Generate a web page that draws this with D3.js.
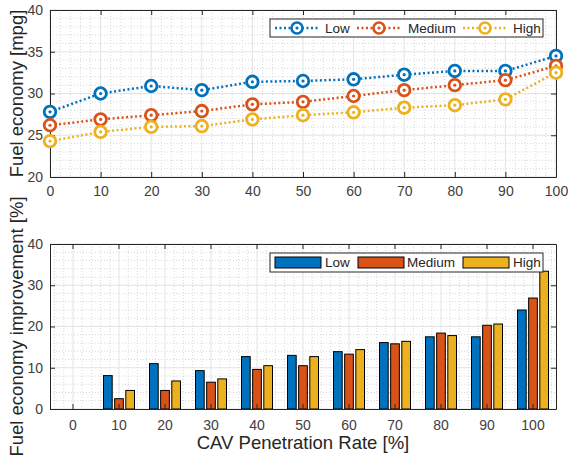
<!DOCTYPE html>
<html>
<head>
<meta charset="utf-8">
<script src="https://cdn.jsdelivr.net/npm/d3@7"></script>
<style>
  body { margin: 0; background: #fff; }
  svg { font-family: "Liberation Sans", Arial, sans-serif; }
</style>
</head>
<body>
<svg id="chart" width="568" height="460"></svg>
<script>
// data
const rates = [0, 10, 20, 30, 40, 50, 60, 70, 80, 90, 100];
const seriesNames = ["Low", "Medium", "High"];
const colors = ["#0072BD", "#D95319", "#EDB120"];

const economyLow = [27.8, 30.0, 30.9, 30.4, 31.4, 31.5, 31.7, 32.25, 32.7, 32.7, 34.5];
const economyMedium = [26.2, 26.9, 27.4, 27.9, 28.7, 29.0, 29.7, 30.4, 31.0, 31.6, 33.3];
const economyHigh = [24.3, 25.4, 26.0, 26.1, 26.9, 27.4, 27.75, 28.3, 28.6, 29.3, 32.5];

const improveLow = [0, 8.1, 11.0, 9.3, 12.7, 13.0, 13.9, 16.1, 17.5, 17.5, 24.0];
const improveMedium = [0, 2.5, 4.5, 6.5, 9.6, 10.5, 13.3, 15.8, 18.4, 20.3, 26.9];
const improveHigh = [0, 4.5, 6.8, 7.3, 10.5, 12.7, 14.4, 16.4, 17.8, 20.6, 33.4];

const topYTicks = [20, 25, 30, 35, 40];
const botYTicks = [0, 10, 20, 30, 40];

const svg = d3.select("#chart");
const axisColor = "#262626";

const left = 50, right = 556;
const top1 = 10, bot1 = 177;
const top2 = 244, bot2 = 409;

// ---------- top: line chart ----------
const x1 = d3.scaleLinear().domain([0, 100]).range([left, right]);
const y1 = d3.scaleLinear().domain([20, 40]).range([bot1, top1]);

const g1 = svg.append("g");

// minor grid
g1.append("g").selectAll("line")
    .data(d3.range(0, 101, 2).filter(d => d % 10 != 0))
    .join("line")
    .attr("x1", d => x1(d)).attr("x2", d => x1(d))
    .attr("y1", top1).attr("y2", bot1)
    .attr("stroke", "#d8d8d8").attr("stroke-dasharray", "1,2");
g1.append("g").selectAll("line")
    .data(d3.range(20, 41, 1).filter(d => d % 5 != 0))
    .join("line")
    .attr("y1", d => y1(d)).attr("y2", d => y1(d))
    .attr("x1", left).attr("x2", right)
    .attr("stroke", "#d8d8d8").attr("stroke-dasharray", "1,2");
// major grid
g1.append("g").selectAll("line")
    .data(rates)
    .join("line")
    .attr("x1", d => x1(d)).attr("x2", d => x1(d))
    .attr("y1", top1).attr("y2", bot1)
    .attr("stroke", "#e3e3e3");
g1.append("g").selectAll("line")
    .data(topYTicks)
    .join("line")
    .attr("y1", d => y1(d)).attr("y2", d => y1(d))
    .attr("x1", left).attr("x2", right)
    .attr("stroke", "#e3e3e3");

// axes
g1.append("g")
    .attr("transform", `translate(0, ${bot1})`)
    .call(d3.axisBottom(x1).tickValues(rates).tickSizeInner(-5).tickSizeOuter(0).tickPadding(9));
g1.append("g")
    .attr("transform", `translate(0, ${top1})`)
    .call(d3.axisTop(x1).tickValues(rates).tickSizeInner(-5).tickSizeOuter(0).tickFormat(""));
g1.append("g")
    .attr("transform", `translate(${left}, 0)`)
    .call(d3.axisLeft(y1).tickValues(topYTicks).tickSizeInner(-5).tickSizeOuter(0).tickPadding(7));
g1.append("g")
    .attr("transform", `translate(${right}, 0)`)
    .call(d3.axisRight(y1).tickValues(topYTicks).tickSizeInner(-5).tickSizeOuter(0).tickFormat(""));

const economy = [economyLow, economyMedium, economyHigh];
const line1 = d3.line().x((d, i) => x1(rates[i])).y(d => y1(d));

economy.forEach((vals, s) => {
    g1.append("path")
        .datum(vals)
        .attr("fill", "none")
        .attr("stroke", colors[s])
        .attr("stroke-width", 2.5)
        .attr("stroke-dasharray", "2,2.5")
        .attr("d", line1);
});
economy.forEach((vals, s) => {
    const m = g1.append("g").selectAll("g")
        .data(vals)
        .join("g")
        .attr("transform", (d, i) => `translate(${x1(rates[i])}, ${y1(d)})`);
    m.append("circle").attr("r", 5.8)
        .attr("fill", "#fff").attr("stroke", colors[s]).attr("stroke-width", 2.8);
    m.append("circle").attr("r", 1.6).attr("fill", colors[s]);
});

// legend top
const leg1 = svg.append("g");
leg1.append("rect")
    .attr("x", 270).attr("y", 19).attr("width", 273).attr("height", 18)
    .attr("fill", "#fff").attr("stroke", axisColor).attr("stroke-width", 1);
const legX1 = [275, 357, 463];
const legText1 = [325, 408, 513];
seriesNames.forEach((name, s) => {
    leg1.append("line")
        .attr("x1", legX1[s]).attr("x2", legX1[s] + 45)
        .attr("y1", 28).attr("y2", 28)
        .attr("stroke", colors[s]).attr("stroke-width", 2.5)
        .attr("stroke-dasharray", "2,2.5");
    leg1.append("circle").attr("cx", legX1[s] + 22).attr("cy", 28).attr("r", 5.5)
        .attr("fill", "#fff").attr("stroke", colors[s]).attr("stroke-width", 2.6);
    leg1.append("circle").attr("cx", legX1[s] + 22).attr("cy", 28).attr("r", 1.6)
        .attr("fill", colors[s]);
    leg1.append("text")
        .attr("x", legText1[s]).attr("y", 28).attr("dy", "0.35em")
        .attr("font-size", 13.5).attr("fill", axisColor)
        .text(name);
});

svg.append("text")
    .attr("transform", `translate(23, ${(top1 + bot1) / 2}) rotate(-90)`)
    .attr("text-anchor", "middle")
    .attr("font-size", 18.5).attr("fill", axisColor)
    .text("Fuel economy [mpg]");

// ---------- bottom: grouped bars ----------
const x2 = d3.scaleBand().domain(rates).range([left, right]).padding(0);
const xs = d3.scaleBand().domain(seriesNames).range([0, 31]).paddingInner(0.22);
const y2 = d3.scaleLinear().domain([0, 40]).range([bot2, top2]);
const bw = x2.bandwidth();

const g2 = svg.append("g");

// minor grid
const minorX = [];
rates.forEach(r => {
    for (let k = -2; k <= 2; k++) if (k != 0) minorX.push(x2(r) + bw / 2 + k * bw / 5);
});
g2.append("g").selectAll("line")
    .data(minorX)
    .join("line")
    .attr("x1", d => d).attr("x2", d => d)
    .attr("y1", top2).attr("y2", bot2)
    .attr("stroke", "#d8d8d8").attr("stroke-dasharray", "1,2");
g2.append("g").selectAll("line")
    .data(d3.range(0, 41, 2).filter(d => d % 10 != 0))
    .join("line")
    .attr("y1", d => y2(d)).attr("y2", d => y2(d))
    .attr("x1", left).attr("x2", right)
    .attr("stroke", "#d8d8d8").attr("stroke-dasharray", "1,2");
g2.append("g").selectAll("line")
    .data(rates)
    .join("line")
    .attr("x1", d => x2(d) + bw / 2).attr("x2", d => x2(d) + bw / 2)
    .attr("y1", top2).attr("y2", bot2)
    .attr("stroke", "#e3e3e3");
g2.append("g").selectAll("line")
    .data(botYTicks)
    .join("line")
    .attr("y1", d => y2(d)).attr("y2", d => y2(d))
    .attr("x1", left).attr("x2", right)
    .attr("stroke", "#e3e3e3");

const improve = [improveLow, improveMedium, improveHigh];
improve.forEach((vals, s) => {
    g2.append("g").selectAll("rect")
        .data(vals.map((v, i) => ({ r: rates[i], v: v })).filter(d => d.v > 0))
        .join("rect")
        .attr("x", d => x2(d.r) + bw / 2 - 15.5 + xs(seriesNames[s]))
        .attr("y", d => y2(d.v))
        .attr("width", xs.bandwidth())
        .attr("height", d => bot2 - y2(d.v))
        .attr("fill", colors[s])
        .attr("stroke", "#000").attr("stroke-width", 1);
});

g2.append("g")
    .attr("transform", `translate(0, ${bot2})`)
    .call(d3.axisBottom(x2).tickValues(rates).tickSizeInner(-5).tickSizeOuter(0).tickPadding(11));
g2.append("g")
    .attr("transform", `translate(0, ${top2})`)
    .call(d3.axisTop(x2).tickValues(rates).tickSizeInner(-5).tickSizeOuter(0).tickFormat(""));
g2.append("g")
    .attr("transform", `translate(${left}, 0)`)
    .call(d3.axisLeft(y2).tickValues(botYTicks).tickSizeInner(-5).tickSizeOuter(0).tickPadding(7));
g2.append("g")
    .attr("transform", `translate(${right}, 0)`)
    .call(d3.axisRight(y2).tickValues(botYTicks).tickSizeInner(-5).tickSizeOuter(0).tickFormat(""));

// legend bottom
const leg2 = svg.append("g");
leg2.append("rect")
    .attr("x", 270).attr("y", 253).attr("width", 273).attr("height", 19)
    .attr("fill", "#fff").attr("stroke", axisColor).attr("stroke-width", 1);
const legX2 = [275, 358, 463];
const legText2 = [325, 407, 513];
seriesNames.forEach((name, s) => {
    leg2.append("rect")
        .attr("x", legX2[s]).attr("y", 257).attr("width", 46).attr("height", 11)
        .attr("fill", colors[s]).attr("stroke", "#000").attr("stroke-width", 1);
    leg2.append("text")
        .attr("x", legText2[s]).attr("y", 262.5).attr("dy", "0.35em")
        .attr("font-size", 13.5).attr("fill", axisColor)
        .text(name);
});

svg.append("text")
    .attr("transform", `translate(23, ${(top2 + bot2) / 2}) rotate(-90)`)
    .attr("text-anchor", "middle")
    .attr("font-size", 18.5).attr("fill", axisColor)
    .text("Fuel economy improvement [%]");

svg.append("text")
    .attr("x", (left + right) / 2).attr("y", 449)
    .attr("text-anchor", "middle")
    .attr("font-size", 18.5).attr("fill", axisColor)
    .text("CAV Penetration Rate [%]");

// axis styling
svg.selectAll(".domain").attr("stroke", axisColor);
svg.selectAll(".tick line").attr("stroke", axisColor);
svg.selectAll(".tick text")
    .attr("font-family", "Liberation Sans, Arial, sans-serif")
    .attr("font-size", 14).attr("fill", "#404040");
</script>
</body>
</html>
